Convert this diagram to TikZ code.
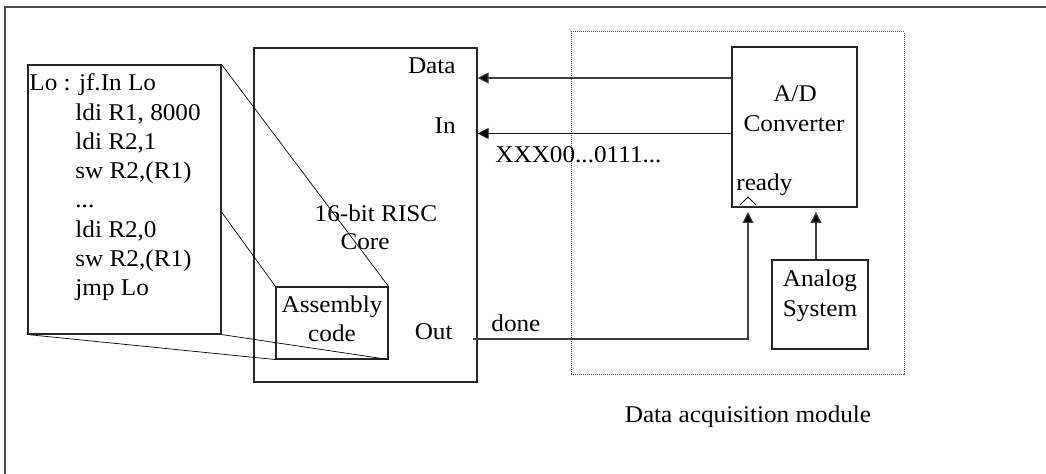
\documentclass[tikz,border=0pt]{standalone}
\usepackage{fontspec}
\setmainfont[FakeStretch=1.05]{Liberation Serif}
\usetikzlibrary{arrows.meta,fit}
\begin{document}
\begin{tikzpicture}[x=0.5pt,y=-0.5pt,
  box/.style={draw=black!85,line width=0.55pt,inner sep=0pt},
  lbl/.style={inner sep=0pt,font=\fontsize{12}{14.4}\selectfont},
  zoomline/.style={draw=black,line width=0.35pt},
  arr/.style={draw=black!75,line width=0.55pt,-{Triangle[length=5.5pt,width=5.5pt,fill=black]}},
  modbox/.style={draw=black!70,line width=0.5pt,dash pattern=on 0.5pt off 0.5pt}]
\useasboundingbox (0,0) rectangle (1046,474);
% outer frame (only top and left visible)
\draw[draw=black!70,line width=0.8pt] (5,474) -- (5,7) -- (1046,7);
% boxes
\node[modbox,inner sep=0pt,fit={(571,32) (904,375)}] (mod) {};
\node[box,fit={(28,65) (221,334)}] (code) {};
\node[box,fit={(254,48) (477,382)}] (core) {};
\node[box,fit={(276,287) (388,359)}] (asm) {};
\node[box,fit={(732,47) (857,207)}] (ad) {};
\node[box,fit={(772,260) (868,349)}] (an) {};
% code text
\node[lbl,anchor=base west] (c1) at (29,91) {Lo : jf.In Lo};
\node[lbl,anchor=base west] (c2) at (75,120.5) {ldi R1, 8000};
\node[lbl,anchor=base west] (c3) at (75,149.5) {ldi R2,1};
\node[lbl,anchor=base west] (c4) at (75,179) {sw R2,(R1)};
\node[lbl,anchor=base west] (c5) at (75,208) {...};
\node[lbl,anchor=base west] (c6) at (75,238) {ldi R2,0};
\node[lbl,anchor=base west] (c7) at (75,267) {sw R2,(R1)};
\node[lbl,anchor=base west] (c8) at (75,296) {jmp Lo};
% core labels
\node[lbl,anchor=base east] (ldata) at (456,74) {Data};
\node[lbl,anchor=base east] (lin) at (456,134) {In};
\node[lbl,anchor=base] (lrisc) at (376,222) {16-bit RISC};
\node[lbl,anchor=base] (lcore) at (365,250) {Core};
\node[lbl,anchor=base east] (lout) at (453,340) {Out};
\node[lbl,anchor=base] (lasm1) at (332,313) {Assembly};
\node[lbl,anchor=base] (lasm2) at (332,342) {code};
% converter labels
\node[lbl,anchor=base] (lad1) at (795,102) {A/D};
\node[lbl,anchor=base] (lad2) at (794,131.5) {Converter};
\node[lbl,anchor=base west] (lready) at (736,191) {ready};
\node[lbl,anchor=base] (lan1) at (820,287) {Analog};
\node[lbl,anchor=base] (lan2) at (820,317) {System};
\node[lbl,anchor=base west] (lxxx) at (495,163) {XXX00...0111...};
\node[lbl,anchor=base west] (ldone) at (491,332) {done};
\node[lbl,anchor=base] (lmod) at (748,423) {Data acquisition module};
% caret under ready
\draw[line width=0.4pt] (740,205) -- (748,197) -- (756,205);
% zoom lines
\draw[zoomline] (code.north east) -- (asm.north east);
\draw[zoomline] (code.east |- 0,212) -- (asm.north west);
\draw[zoomline] (code.south east) -- (asm.south east);
\draw[zoomline] (code.south west) -- (asm.south west);
% connectors
\coordinate (dY) at (0,78);
\coordinate (iY) at (0,133.5);
\coordinate (outp) at (473,339);
\coordinate (rdy) at (748,212);
\coordinate (ana) at (816,212);
\draw[arr] (ad.west |- dY) -- (core.east |- dY);
\draw[arr,draw=black!90] (ad.west |- iY) -- (core.east |- iY);
\draw[arr] (outp) -| (rdy);
\draw[arr] (an.north -| ana) -- (ana);
\end{tikzpicture}
\end{document}
